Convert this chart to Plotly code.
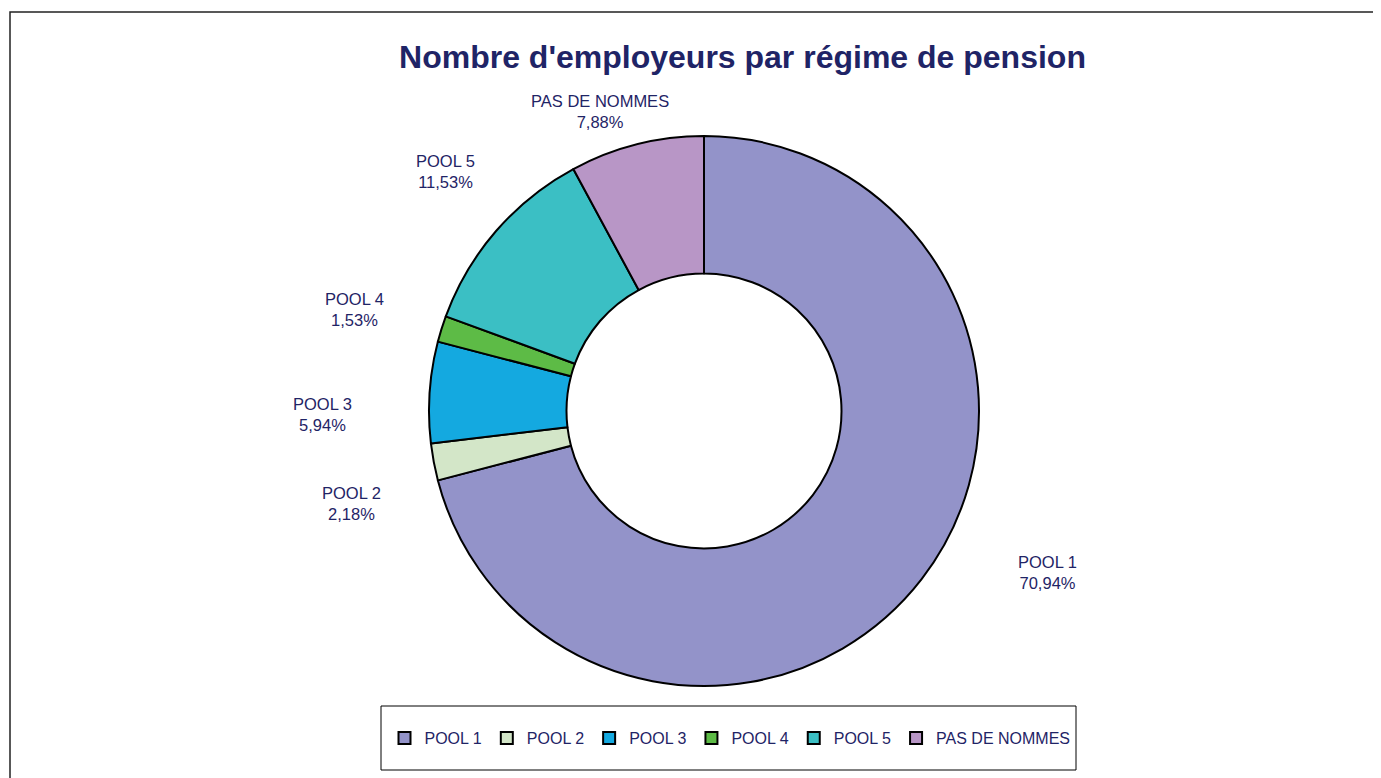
import plotly.graph_objects as go

regimes = ["POOL 1", "POOL 2", "POOL 3", "POOL 4", "POOL 5", "PAS DE NOMMES"]
parts = [70.94, 2.18, 5.94, 1.53, 11.53, 7.88]
couleurs = ["#9393C9", "#D3E6C8", "#14A9E0", "#5DBB46", "#3BBFC4", "#B896C6"]

W, H = 1381, 778
navy = "#1F2466"
police = "Liberation Sans, Arial"


def px_x(x):
    # page pixel -> paper (the page body has an 8px margin)
    return (x - 8) / W


def px_y(y):
    return 1 - (y - 8) / H


fig = go.Figure(
    go.Pie(
        labels=regimes,
        values=parts,
        hole=0.5,
        sort=False,
        direction="clockwise",
        rotation=0,
        marker=dict(colors=couleurs, line=dict(color="black", width=2)),
        textinfo="none",
        hoverinfo="label+percent",
        domain=dict(x=[px_x(429), px_x(979)], y=[px_y(686), px_y(136)]),
    )
)

# where each label sits on the page, as in the original chart
label_pos = {
    "POOL 1": (1047, 572),
    "POOL 2": (351, 503),
    "POOL 3": (322, 414),
    "POOL 4": (354, 310),
    "POOL 5": (445, 172),
    "PAS DE NOMMES": (600, 111),
}

for nom, val in zip(regimes, parts):
    x, y = label_pos[nom]
    fig.add_annotation(
        x=px_x(x), y=px_y(y), xref="paper", yref="paper",
        text=nom + "<br>" + f"{val:.2f}".replace(".", ",") + "%",
        showarrow=False, xanchor="center", yanchor="middle", align="center",
        font=dict(family=police, size=16.5, color=navy),
    )

fig.update_layout(
    width=W,
    height=H,
    paper_bgcolor="white",
    plot_bgcolor="white",
    margin=dict(l=0, r=0, t=0, b=0),
    title=dict(
        text="<b>Nombre d'employeurs par régime de pension</b>",
        x=px_x(742.5),
        xanchor="center",
        y=px_y(57),
        yanchor="middle",
        font=dict(family=police, size=32, color=navy),
    ),
    legend=dict(
        orientation="h",
        x=px_x(730),
        xanchor="center",
        y=px_y(738),
        yanchor="middle",
        font=dict(family=police, size=16, color=navy),
        itemwidth=30,
        bgcolor="rgba(0,0,0,0)",
    ),
    shapes=[
        dict(type="rect", xref="paper", yref="paper",
             x0=px_x(10), x1=1.02, y0=-0.05, y1=px_y(12),
             line=dict(color="#222222", width=1.5)),
        dict(type="rect", xref="paper", yref="paper",
             x0=px_x(381), x1=px_x(1076), y0=px_y(770), y1=px_y(706),
             line=dict(color="black", width=1)),
    ],
)

fig.write_html("out.html")
